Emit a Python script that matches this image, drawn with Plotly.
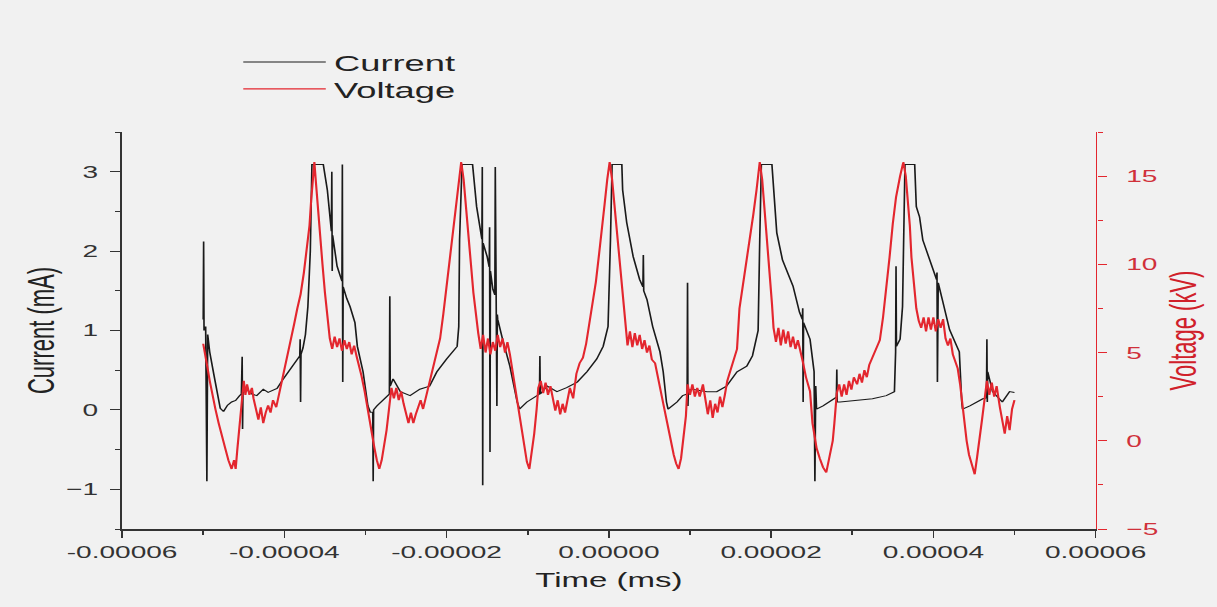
import numpy as np
import plotly.graph_objects as go

# ---- Data (time in units of 1e-6) ----
volt_t = [-50.0, -49.8, -49.5, -49.2, -48.9, -48.5, -48.1, -47.7, -47.3, -46.9, -46.5, -46.2, -46.0,
          -45.8, -45.6, -45.4, -45.2, -45.0, -44.8, -44.6, -44.3, -44.0, -43.8, -43.5, -43.2, -42.9,
          -42.6, -42.3, -42.0, -41.7, -41.4, -41.0, -40.7, -40.4, -40.0, -39.6, -39.2, -38.8, -38.4,
          -38.0, -37.6, -37.2, -36.9, -36.7, -36.5, -36.3, -36.1, -35.9, -35.6, -35.3, -35.0, -34.7,
          -34.4, -34.1, -33.8, -33.5, -33.2, -32.9, -32.6, -32.3, -32.0, -31.7, -31.4, -31.1, -30.8,
          -30.5, -30.1, -29.8, -29.5, -29.2, -28.9, -28.6, -28.3, -28.0, -27.7, -27.4, -27.1, -26.8,
          -26.5, -26.2, -25.9, -25.6, -25.3, -25.0, -24.7, -24.4, -24.1, -23.8, -23.5, -23.2, -22.9,
          -22.6, -22.3, -22.0, -21.6, -21.2, -20.8, -20.4, -20.0, -19.6, -19.2, -18.8, -18.5, -18.2,
          -17.9, -17.6, -17.3, -17.0, -16.7, -16.4, -16.1, -15.8, -15.5, -15.2, -14.9, -14.6, -14.3,
          -14.0, -13.7, -13.4, -13.1, -12.8, -12.5, -12.2, -11.9, -11.6, -11.3, -11.0, -10.7, -10.4,
          -10.1, -9.8, -9.5, -9.2, -8.9, -8.7, -8.4, -8.1, -7.8, -7.5, -7.2, -6.9, -6.6, -6.3, -6.0,
          -5.7, -5.4, -5.1, -4.8, -4.4, -4.0, -3.6, -3.2, -2.8, -2.4, -2.0, -1.6, -1.2, -0.8, -0.5,
          -0.2, 0.1, 0.4, 0.7, 1.0, 1.4, 1.7, 2.0, 2.3, 2.6, 2.9, 3.2, 3.5, 3.8, 4.1, 4.4, 4.7, 5.0,
          5.3, 5.7, 6.0, 6.4, 6.8, 7.2, 7.6, 8.0, 8.3, 8.6, 8.9, 9.2, 9.5, 9.7, 10.0, 10.3, 10.6,
          10.9, 11.2, 11.6, 11.9, 12.2, 12.5, 12.8, 13.1, 13.4, 13.7, 14.0, 14.3, 14.6, 15.0, 15.4,
          15.8, 16.1, 16.6, 17.0, 17.4, 17.8, 18.2, 18.6, 18.9, 19.2, 19.5, 19.8, 20.1, 20.3, 20.6,
          20.9, 21.2, 21.5, 21.8, 22.1, 22.4, 22.7, 23.0, 23.3, 23.6, 23.9, 24.3, 24.8, 25.1, 25.4,
          25.6, 26.0, 26.4, 26.8, 27.2, 27.6, 27.8, 28.1, 28.4, 28.7, 29.0, 29.3, 29.6, 29.9, 30.2,
          30.6, 30.9, 31.2, 31.5, 31.8, 32.1, 32.5, 33.0, 33.4, 33.8, 34.2, 34.6, 35.0, 35.4, 35.9,
          36.3, 36.6, 36.8, 37.1, 37.3, 37.6, 37.9, 38.2, 38.5, 38.8, 39.1, 39.4, 39.7, 40.0, 40.3,
          40.6, 40.9, 41.2, 41.5, 41.8, 42.1, 42.4, 42.7, 43.0, 43.3, 43.5, 43.8, 44.1, 44.4, 44.8,
          45.1, 45.4, 45.7, 46.0, 46.3, 46.6, 46.9, 47.2, 47.5, 47.8, 48.2, 48.5, 48.8, 49.1, 49.4,
          49.7, 50.0]
volt_kv = [5.5, 4.8, 4.2, 3.4, 2.6, 1.8, 1.0, 0.4, -0.4, -1.1, -1.6, -1.1, -1.6,
           -0.5, 0.6, 1.8, 3.0, 3.4, 2.6, 3.2, 2.6, 3.0, 2.4, 1.9, 1.2, 1.9,
           1.0, 1.6, 2.0, 1.6, 2.3, 1.9, 2.5, 3.3, 4.0, 4.8, 5.8, 6.6, 7.5,
           8.3, 9.5, 10.8, 12.2, 13.6, 15.0, 15.8, 14.6, 13.2, 11.5, 10.0, 8.4, 6.8,
           5.8, 5.2, 5.9, 5.3, 5.8, 5.1, 5.7, 5.2, 5.6, 4.9, 5.4, 4.8, 4.3,
           3.7, 2.8, 1.9, 1.1, 0.4, -0.4, -1.1, -1.6, -1.1, -0.3, 0.6, 1.8, 3.0,
           2.4, 3.0, 2.3, 2.8, 2.1, 1.6, 1.0, 1.6, 1.0, 1.5, 2.0, 2.3, 1.8,
           2.4, 3.0, 3.6, 4.2, 5.0, 5.8, 7.2, 8.8, 10.2, 11.8, 13.2, 14.6, 15.8,
           14.8, 13.4, 11.6, 10.0, 8.4, 7.0, 6.1, 5.2, 6.0, 5.0, 5.8, 4.9, 5.6,
           5.1, 6.0, 5.3, 5.8, 5.0, 5.6, 4.9, 4.0, 3.2, 2.2, 1.3, 0.4, -0.5,
           -1.2, -1.6, -0.8, 0.4, 1.8, 3.0, 3.4, 2.7, 3.3, 2.6, 3.1, 2.4, 1.7, 2.3, 1.5,
           2.1, 1.6, 2.3, 3.0, 2.4, 3.8, 4.4, 4.7, 5.5, 6.6, 7.5, 9.0, 10.6, 12.0, 13.5,
           14.8, 15.8, 14.8, 13.2, 11.8, 9.8, 8.0, 6.4, 5.4, 6.2, 5.3, 6.1, 5.4, 6.0, 5.2, 5.7, 5.0, 5.4,
           4.6, 4.4, 3.8, 2.8, 1.9, 1.0, 0.0, -0.8, -1.3, -1.6, -1.0, 0.0, 1.4, 3.2, 2.6, 3.2, 2.5,
           3.0, 2.5, 3.2, 2.2, 1.5, 2.3, 1.3, 2.1, 1.6, 2.5, 1.9, 2.6, 3.4, 4.0, 4.7,
           5.2, 7.5, 9.0, 10.0, 11.3, 12.8, 14.2, 15.8, 14.8, 13.2, 11.6, 9.5, 7.8, 6.4, 5.6,
           6.4, 5.4, 6.3, 5.5, 6.2, 5.3, 5.9, 5.2, 5.7, 4.9, 4.5, 3.6, 2.8, 1.0, 0.2,
           -0.4, -1.0, -1.5, -1.8, -1.0, 0.0, 1.0, 2.7, 3.2, 2.5, 3.2, 2.6, 3.4, 2.9, 3.6,
           3.2, 3.8, 3.3, 4.0, 3.6, 4.3, 4.7, 5.2, 5.7, 7.0, 8.5, 10.4, 12.3, 13.8, 15.0,
           15.8, 15.0, 14.1, 12.2, 10.4, 8.8, 7.5, 6.8, 6.4, 7.0, 6.2, 7.0, 6.3, 7.0, 6.2,
           6.9, 6.4, 6.9, 5.8, 5.4, 5.8, 4.9, 4.5, 4.1, 3.2, 2.3, 1.2, 0.0, -0.8, -1.4,
           -1.9, -0.9, 0.0, 1.2, 2.3, 3.4, 2.6, 3.3, 2.5, 3.1, 1.9, 1.2, 0.4, 1.4, 0.6,
           1.8, 2.3]

curr_t = [-50.0, -49.95, -49.9, -49.7, -49.55, -49.45, -49.2, -48.7, -48.3, -47.9, -47.5, -47.0,
          -46.5, -46.0, -45.5, -45.3, -45.2, -45.15, -45.1, -44.6, -44.0, -43.4, -42.6, -42.0,
          -41.4, -40.9, -40.2, -39.3, -38.4, -38.1, -38.05, -38.0, -37.95, -37.7, -37.4, -37.1,
          -36.8, -36.6, -35.2, -34.7, -34.4, -34.2, -34.15, -34.1, -34.05, -33.5, -32.9, -32.85,
          -32.8, -32.75, -32.3, -31.9, -31.3, -31.0, -30.3, -29.7, -29.4, -29.1, -29.05, -29.0,
          -28.6, -27.8, -27.3, -27.05, -27.0, -26.95, -26.6, -25.7, -24.5, -23.3, -22.1, -21.2,
          -20.0, -18.7, -18.5, -18.4, -18.1, -16.8, -16.3, -15.9, -15.65, -15.6, -15.55, -15.5,
          -15.0, -14.75, -14.7, -14.65, -14.6, -14.3, -14.05, -14.0, -13.95, -13.85, -13.8,
          -13.75, -13.7, -13.1, -12.2, -11.3, -11.0, -10.1, -8.9, -8.55, -8.5, -8.45, -7.6, -6.4,
          -5.2, -3.9, -2.7, -1.5, -0.7, -0.1, 0.2, 0.4, 1.6, 1.7, 2.2, 3.0, 3.8, 4.2, 4.25, 4.3,
          4.7, 5.4, 6.3, 6.7, 7.1, 7.3, 8.4, 9.1, 9.65, 9.7, 9.75, 9.8, 10.3, 12.1, 13.3, 14.5,
          15.8, 17.0, 17.7, 18.4, 18.6, 18.8, 20.1, 20.7, 21.4, 22.7, 23.5, 23.85, 23.9, 23.95,
          24.0, 24.8, 25.3, 25.4, 25.5, 25.6, 26.4, 27.6, 28.05, 28.1, 28.15, 28.5, 30.6, 32.5,
          34.2, 35.2, 35.35, 35.4, 35.45, 35.9, 36.2, 36.5, 37.7, 37.9, 38.3, 38.7, 39.9, 40.4,
          40.45, 40.5, 40.6, 41.1, 42.0, 42.9, 43.2, 43.5, 43.6, 44.5, 45.3, 46.1, 46.55, 46.6,
          46.65, 46.7, 47.3, 48.5, 49.4, 50.0]
curr_ma = [1.14, 2.12, 1.0, 1.05, -0.9, 0.95, 0.73, 0.45, 0.26, 0.02, -0.02, 0.06,
           0.1, 0.12, 0.18, 0.2, 0.67, -0.24, 0.22, 0.25, 0.2, 0.18, 0.26, 0.22,
           0.25, 0.27, 0.38, 0.5, 0.62, 0.68, 0.89, 0.1, 0.7, 0.78, 0.95, 1.3,
           2.0, 3.09, 3.09, 2.77, 2.36, 2.25, 3.0, 1.75, 2.2, 1.81, 1.62, 3.09,
           0.35, 1.55, 1.4, 1.3, 1.1, 0.8, 0.48, 0.05, -0.03, -0.03, -0.9, 0.0,
           0.05, 0.12, 0.18, 0.2, 1.43, 0.3, 0.39, 0.23, 0.18, 0.26, 0.3, 0.48,
           0.64, 0.8, 1.05, 2.14, 3.09, 3.09, 2.56, 2.23, 2.15, 3.06, -0.95, 2.1,
           1.93, 1.8, 2.3, -0.53, 1.75, 1.52, 1.45, 3.06, 0.05, 3.06, 0.05,
           1.2, 1.14, 0.89, 0.55, 0.1, 0.01, 0.1, 0.18, 0.2, 0.68, 0.2, 0.3, 0.23,
           0.28, 0.35, 0.48, 0.64, 0.8, 1.05, 2.14, 3.09, 3.09, 2.77, 2.36, 1.93, 1.64, 1.55, 1.95, 1.5,
           1.39, 1.05, 0.73, 0.48, 0.1, 0.01, 0.1, 0.18, 0.2, 1.6, 0.05, 0.25, 0.26, 0.23, 0.23, 0.3,
           0.48, 0.55, 0.68, 1.0, 2.14, 3.09, 3.09, 2.23, 1.89, 1.56, 1.23, 1.14, 1.28, 0.1,
           1.1, 0.89, 0.48, -0.9, 0.3, 0.01, 0.05, 0.14, 0.16, 0.51, 0.1, 0.1, 0.12, 0.14,
           0.18, 0.23, 0.73, 1.81, 0.8, 0.89, 1.3, 3.09, 3.09, 2.56, 2.43, 2.14, 1.81, 1.64,
           1.73, 0.35, 1.6, 1.39, 1.01, 0.8, 0.73, 0.1, 0.01, 0.05, 0.1, 0.14, 0.15, 0.89,
           0.1, 0.48, 0.23, 0.1, 0.23, 0.22]

x_ticks = [-0.00006, -0.00004, -0.00002, 0.0, 0.00002, 0.00004, 0.00006]
x_ticklabels = ["-0.00006", "-0.00004", "-0.00002", "0.00000", "0.00002", "0.00004", "0.00006"]

t_v = np.array(volt_t) * 1e-6
t_c = np.array(curr_t) * 1e-6

# The reference picture is horizontally stretched; draw narrower and stretch the page.
SX = 1.65
W = 738
H = 607

BG = "#f1f1f1"
RED = "#e3262e"
AXC = "#333333"
FONT = "Liberation Sans, Arial, sans-serif"

fig = go.Figure()
fig.add_trace(go.Scatter(x=t_c, y=curr_ma, mode="lines", name="Current", legend="legend",
                         line=dict(color="#1a1a1a", width=1.0)))
fig.add_trace(go.Scatter(x=t_v, y=volt_kv, mode="lines", name="Voltage", yaxis="y2",
                         legend="legend2", line=dict(color=RED, width=1.3)))

leg_common = dict(xanchor="left", yanchor="middle", bgcolor="rgba(0,0,0,0)",
                  font=dict(family=FONT, size=22, color="#222"), itemwidth=50)

fig.update_layout(
    width=W, height=H,
    paper_bgcolor=BG, plot_bgcolor=BG,
    margin=dict(l=74, r=74, t=132, b=78),
    showlegend=True,
    legend=dict(x=0.116, y=1.176, **leg_common),
    legend2=dict(x=0.116, y=1.108, **leg_common),
    xaxis=dict(range=[-0.00006, 0.00006], tickvals=x_ticks, ticktext=x_ticklabels,
               showgrid=False, zeroline=False, showline=True, linecolor=AXC, linewidth=1.6,
               ticks="outside", ticklen=7, tickcolor=AXC, tickwidth=1.2,
               minor=dict(dtick=0.00001, ticks="outside", ticklen=4, tickcolor=AXC, tickwidth=1.0),
               tickfont=dict(family=FONT, size=17, color="#333"),
               title=dict(text="Time (ms)", font=dict(family=FONT, size=20, color="#222"), standoff=12)),
    yaxis=dict(range=[-1.5, 3.5], tickvals=[-1, 0, 1, 2, 3], showgrid=False, zeroline=False,
               showline=True, linecolor=AXC, linewidth=1.4, ticks="outside", ticklen=6,
               tickcolor=AXC, tickwidth=1.4, ticklabelstandoff=4,
               minor=dict(dtick=0.5, ticks="outside", ticklen=3, tickcolor=AXC, tickwidth=1.2),
               tickfont=dict(family=FONT, size=17, color="#333"),
               title=dict(text="Current (mA)", font=dict(family=FONT, size=22, color="#222"), standoff=0)),
    yaxis2=dict(range=[-5, 17.5], tickvals=[-5, 0, 5, 10, 15], overlaying="y", side="right",
                showgrid=False, zeroline=False, showline=True, linecolor=RED, linewidth=1.4,
                ticks="outside", ticklen=6, tickcolor=RED, tickwidth=1.4, ticklabelstandoff=8,
                minor=dict(dtick=2.5, ticks="outside", ticklen=3, tickcolor=RED, tickwidth=1.2),
                tickfont=dict(family=FONT, size=17, color="#d0303a"),
                title=dict(text="Voltage (kV)", font=dict(family=FONT, size=22, color="#d0202a"), standoff=8)),
)

post = ("document.documentElement.style.background='" + BG + "';"
        "document.body.style.margin='0';document.body.style.background='" + BG + "';"
        "document.body.style.overflow='hidden';"
        "var gd=document.getElementById('{plot_id}');"
        "gd.style.transformOrigin='0 0';gd.style.transform='scaleX(" + str(SX) + ")';")

fig.write_html("out.html", post_script=post, config={"displayModeBar": False})
